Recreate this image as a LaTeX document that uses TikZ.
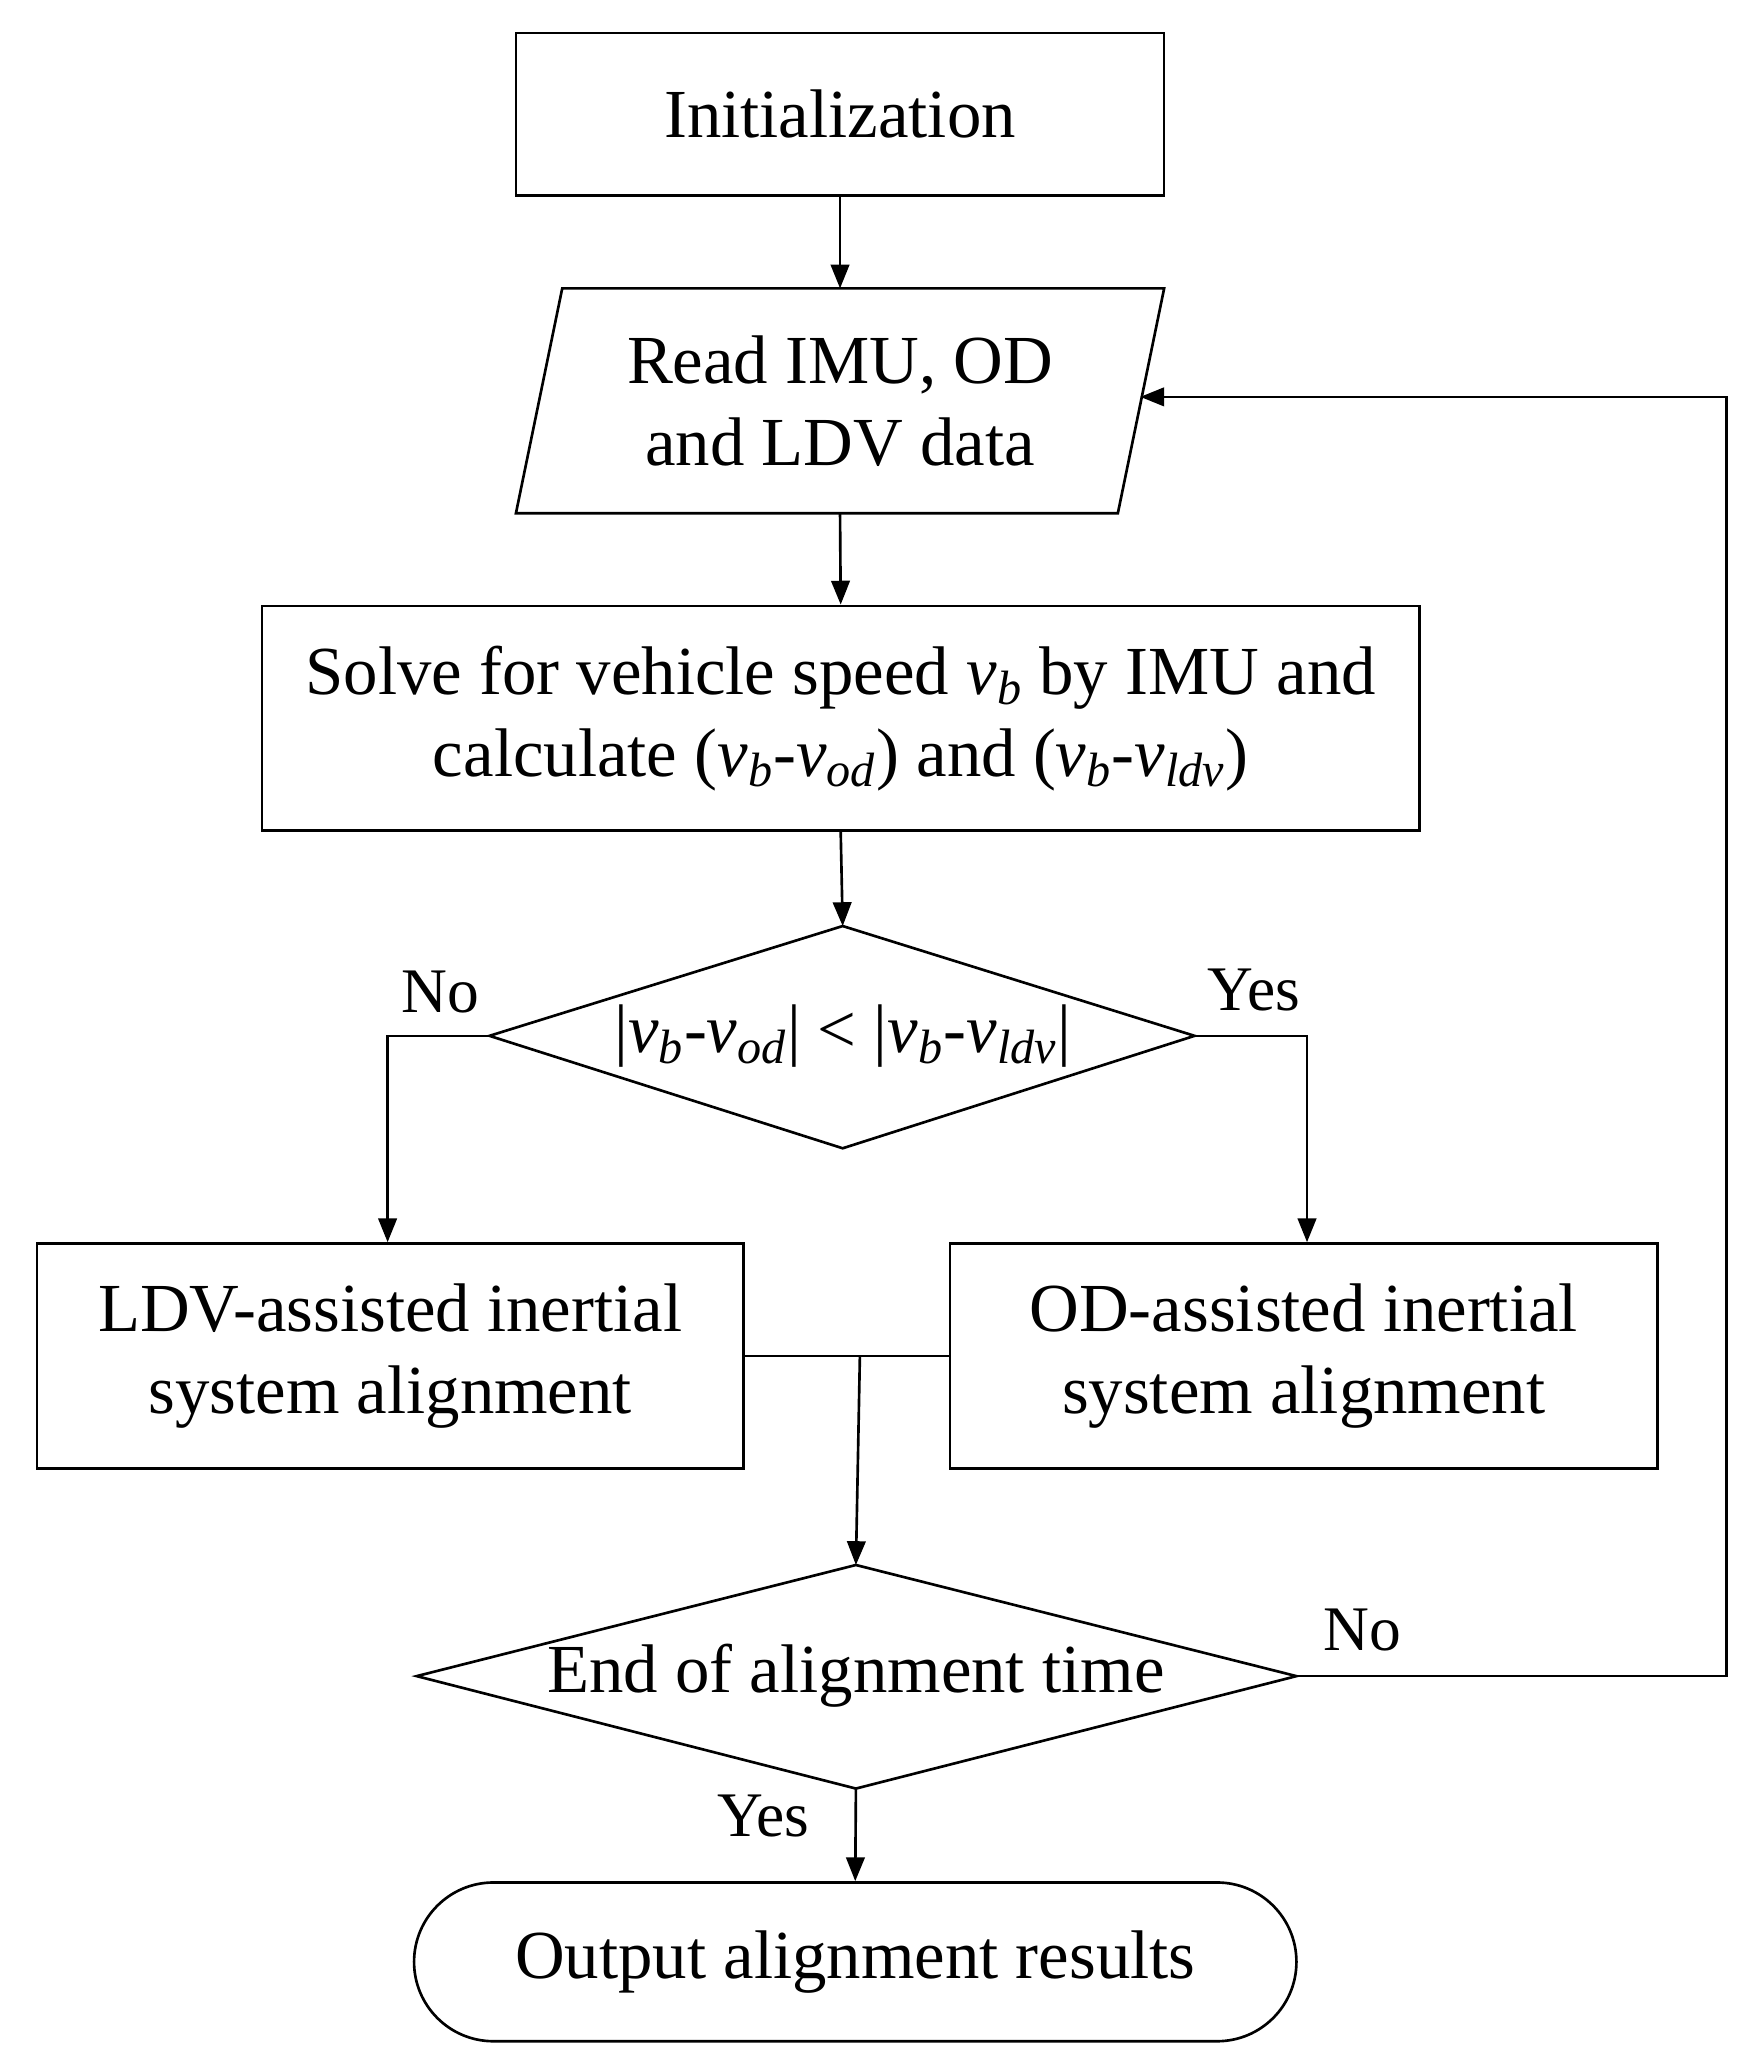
\documentclass[tikz,border=0pt]{standalone}
\usepackage{fontspec}
\setmainfont{Liberation Serif}
\usetikzlibrary{arrows.meta}
\newcommand{\vsub}[1]{\textit{v}\textsubscript{\textit{#1}}}
\begin{document}
\begin{tikzpicture}[x=0.5pt,y=-0.5pt,
  every node/.style={font=\fontsize{26}{31}\selectfont, align=center},
  box/.style={draw, line width=1pt, inner sep=0},
  line/.style={line width=1pt},
  arr/.style={line width=1pt,-{Triangle[length=9pt,width=7pt]}},
  lab/.style={font=\fontsize{24}{28}\selectfont}]
\useasboundingbox (0,0) rectangle (1330,1564);
\node[box, minimum width=245pt, minimum height=61.5pt] (init) at (635,86.5) {Initialization};
\draw[line width=1pt] (425,218) -- (880,218) -- (845,388) -- (390,388) -- cycle;
\node (read) at (635,303) {Read IMU, OD\\and LDV data};
\coordinate (readT) at (635,218);
\coordinate (readB) at (635,388);
\coordinate (readR) at (862,300);
\node[box, minimum width=437.5pt, minimum height=85pt] (solve) at (635.5,543) {Solve for vehicle speed \vsub{b} by IMU and\\calculate (\vsub{b}-\vsub{od}) and (\vsub{b}-\vsub{ldv})};
\draw[line width=1pt] (370,783) -- (637,700) -- (903,783) -- (637,868) -- cycle;
\node (d1) at (637,783) {|\vsub{b}-\vsub{od}| < |\vsub{b}-\vsub{ldv}|};
\coordinate (d1T) at (637,700); \coordinate (d1L) at (370,783); \coordinate (d1R) at (903,783);
\node[box, minimum width=267pt, minimum height=85pt] (ldv) at (295,1025) {LDV-assisted inertial\\system alignment};
\node[box, minimum width=267.5pt, minimum height=85pt] (od) at (985.5,1025) {OD-assisted inertial\\system alignment};
\draw[line width=1pt] (315,1267) -- (647,1183) -- (980,1267) -- (647,1352) -- cycle;
\node (d2) at (647,1267) {End of alignment time};
\coordinate (d2T) at (647,1183); \coordinate (d2R) at (980,1267); \coordinate (d2B) at (647,1352);
\node[draw, line width=1pt, rounded corners=30pt, minimum width=333.5pt, minimum height=60pt, inner sep=0] (out) at (646.5,1483) {Output alignment results};
\coordinate (m) at (650,1025);
\draw[arr] (init.south) -- (readT);
\draw[arr] (readB) -- (solve.north);
\draw[arr] (solve.south) -- (d1T);
\draw[arr] (d1L) -- (293,783) -- (ldv.north -| 293,0);
\draw[arr] (d1R) -- (988,783) -- (od.north -| 988,0);
\draw[line] (ldv.east) -- (od.west);
\draw[arr] (m) -- (d2T);
\draw[arr] (d2R) -- (1305,1267) -- (1305,300) -- (readR);
\draw[arr] (d2B) -- (out.north);
\node[lab] at (333,750) {No};
\node[lab] at (948,748) {Yes};
\node[lab] at (1030,1232) {No};
\node[lab] at (577,1373) {Yes};
\end{tikzpicture}
\end{document}
